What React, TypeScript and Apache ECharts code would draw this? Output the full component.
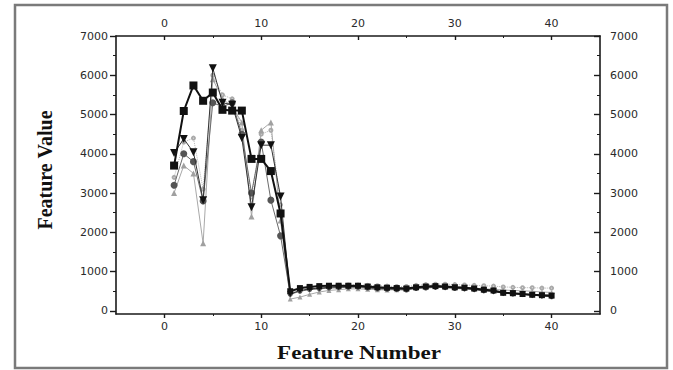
import React, { useEffect, useRef } from "react";
import * as echarts from "echarts";

const featureNumbers = [1, 2, 3, 4, 5, 6, 7, 8, 9, 10, 11, 12, 13, 14, 15, 16, 17, 18, 19, 20, 21, 22, 23, 24, 25, 26, 27, 28, 29, 30, 31, 32, 33, 34, 35, 36, 37, 38, 39, 40];

const seriesSquares = [3700, 5090, 5740, 5350, 5560, 5120, 5100, 5100, 3870, 3870, 3560, 2480, 500, 580, 610, 630, 640, 640, 640, 640, 620, 600, 590, 580, 570, 600, 620, 630, 620, 600, 590, 570, 540, 520, 460, 450, 430, 410, 400, 390];
const seriesDownTri = [4020, 4380, 4040, 2820, 6180, 5300, 5250, 4400, 2640, 4220, 4220, 2910, 430, 520, 560, 580, 600, 610, 620, 620, 600, 580, 570, 560, 550, 580, 600, 610, 600, 590, 570, 550, 520, 500, 450, 440, 420, 400, 380, 370];
const seriesCircles = [3200, 4000, 3800, 2800, 5300, 5200, 5300, 4500, 3000, 4300, 2820, 1910, 420, 500, 540, 560, 580, 590, 600, 600, 580, 560, 550, 540, 530, 570, 580, 600, 590, 570, 560, 540, 510, 490, 450, 430, 420, 400, 380, 360];
const seriesUpTri = [3000, 3700, 3500, 1720, 5900, 5400, 5200, 4800, 2400, 4600, 4800, 2300, 300, 350, 420, 480, 520, 540, 560, 560, 550, 540, 530, 540, 560, 600, 620, 640, 630, 620, 600, 580, 560, 550, 530, 520, 510, 500, 480, 470];
const seriesDotted = [3400, 4300, 4400, 3100, 6000, 5500, 5400, 4600, 2900, 4500, 4600, 2700, 450, 560, 600, 620, 640, 650, 660, 660, 650, 640, 630, 620, 620, 650, 670, 680, 680, 670, 660, 650, 640, 630, 610, 600, 590, 590, 580, 580];

const xMajorTicks = [0, 10, 20, 30, 40];
const xMinorTicks = [5, 15, 25, 35];
const yMajorTicks = [0, 1000, 2000, 3000, 4000, 5000, 6000, 7000];
const yMinorTicks = [500, 1500, 2500, 3500, 4500, 5500, 6500];

const pairs = (vals: number[]) => featureNumbers.map((x, i) => [x, vals[i]]);

export default function App() {
  const ref = useRef<HTMLDivElement>(null);
  useEffect(() => {
    if (!ref.current) return;
    const chart = echarts.init(ref.current, null, { renderer: "svg" });
    const axisColor = "#1a1a1a";
    const labelStyle = { color: "#2a2a2a", fontFamily: "DejaVu Sans", fontSize: 11, formatter: (v: number) => String(v) };
    const xBase = { type: "value", min: -5, max: 45, gridIndex: 0, splitLine: { show: false } };
    const yBase = { type: "value", min: -80, max: 7000, gridIndex: 0, splitLine: { show: false } };
    const line = (show: boolean) => ({ show, onZero: false, lineStyle: { color: axisColor, width: 1.6 } });
    const sym = (big: number, small: number) => (v: number[]) => (v[1] > 1000 ? big : small);
    chart.setOption({
      animation: false,
      backgroundColor: "#fff",
      grid: { left: 116, right: 73, top: 36, bottom: 56 },
      graphic: [
        { type: "rect", shape: { x: 15, y: 5, width: 652, height: 363 }, style: { fill: "none", stroke: "#7a7a7a", lineWidth: 2.5 } },
        { type: "text", x: 359, y: 353, scaleX: 1.28, originX: 0, originY: 0, style: { text: "Feature Number", font: "bold 18px 'Liberation Serif'", fill: "#111", align: "center", verticalAlign: "middle" } },
        { type: "text", x: 45, y: 170, rotation: Math.PI / 2, style: { text: "Feature Value", font: "bold 20px 'Liberation Serif'", fill: "#111", align: "center", verticalAlign: "middle" } },
      ],
      xAxis: [
        { ...xBase, position: "bottom", axisLine: line(true), axisTick: { inside: false, length: 4, customValues: xMajorTicks, lineStyle: { color: axisColor, width: 1.4 } }, axisLabel: { ...labelStyle, margin: 7, customValues: xMajorTicks } },
        { ...xBase, position: "top", axisLine: line(true), axisTick: { inside: true, length: 4, customValues: xMajorTicks, lineStyle: { color: axisColor, width: 1.4 } }, axisLabel: { ...labelStyle, margin: 7, customValues: xMajorTicks } },
        { ...xBase, position: "bottom", axisLine: line(false), axisTick: { inside: false, length: 2, customValues: xMinorTicks, lineStyle: { color: axisColor } }, axisLabel: { show: false } },
        { ...xBase, position: "top", axisLine: line(false), axisTick: { inside: true, length: 2, customValues: xMinorTicks, lineStyle: { color: axisColor } }, axisLabel: { show: false } },
      ],
      yAxis: [
        { ...yBase, position: "left", axisLine: line(true), axisTick: { show: true, inside: false, length: 6, customValues: yMajorTicks, lineStyle: { color: axisColor, width: 1.4 } }, axisLabel: { ...labelStyle, margin: 8, customValues: yMajorTicks } },
        { ...yBase, position: "right", axisLine: line(true), axisTick: { show: true, inside: true, length: 6, customValues: yMajorTicks, lineStyle: { color: axisColor, width: 1.4 } }, axisLabel: { ...labelStyle, margin: 10, customValues: yMajorTicks } },
        { ...yBase, position: "left", axisLine: line(false), axisTick: { show: true, inside: false, length: 3, customValues: yMinorTicks, lineStyle: { color: axisColor } }, axisLabel: { show: false } },
        { ...yBase, position: "right", axisLine: line(false), axisTick: { show: true, inside: true, length: 3, customValues: yMinorTicks, lineStyle: { color: axisColor } }, axisLabel: { show: false } },
      ],
      series: [
        { type: "line", data: pairs(seriesDotted), symbol: "emptyCircle", symbolSize: 3, lineStyle: { color: "#b5b5b5", width: 1, type: "dotted" }, itemStyle: { color: "#aaa" }, z: 1 },
        { type: "line", data: pairs(seriesUpTri), symbol: "triangle", symbolSize: sym(6, 5), lineStyle: { color: "#a8a8a8", width: 1 }, itemStyle: { color: "#a0a0a0" }, z: 2 },
        { type: "line", data: pairs(seriesCircles), symbol: "circle", symbolSize: sym(7, 5), lineStyle: { color: "#6a6a6a", width: 1 }, itemStyle: { color: "#555" }, z: 3 },
        { type: "line", data: pairs(seriesDownTri), symbol: "triangle", symbolRotate: 180, symbolSize: sym(8, 6), lineStyle: { color: "#333", width: 1 }, itemStyle: { color: "#111" }, z: 4 },
        { type: "line", data: pairs(seriesSquares), symbol: "rect", symbolSize: sym(8, 6), lineStyle: { color: "#111", width: 2 }, itemStyle: { color: "#111" }, z: 5 },
      ],
    });
    return () => chart.dispose();
  }, []);
  return <div ref={ref} style={{ position: "fixed", left: 0, top: 0, width: 673, height: 370 }} />;
}
